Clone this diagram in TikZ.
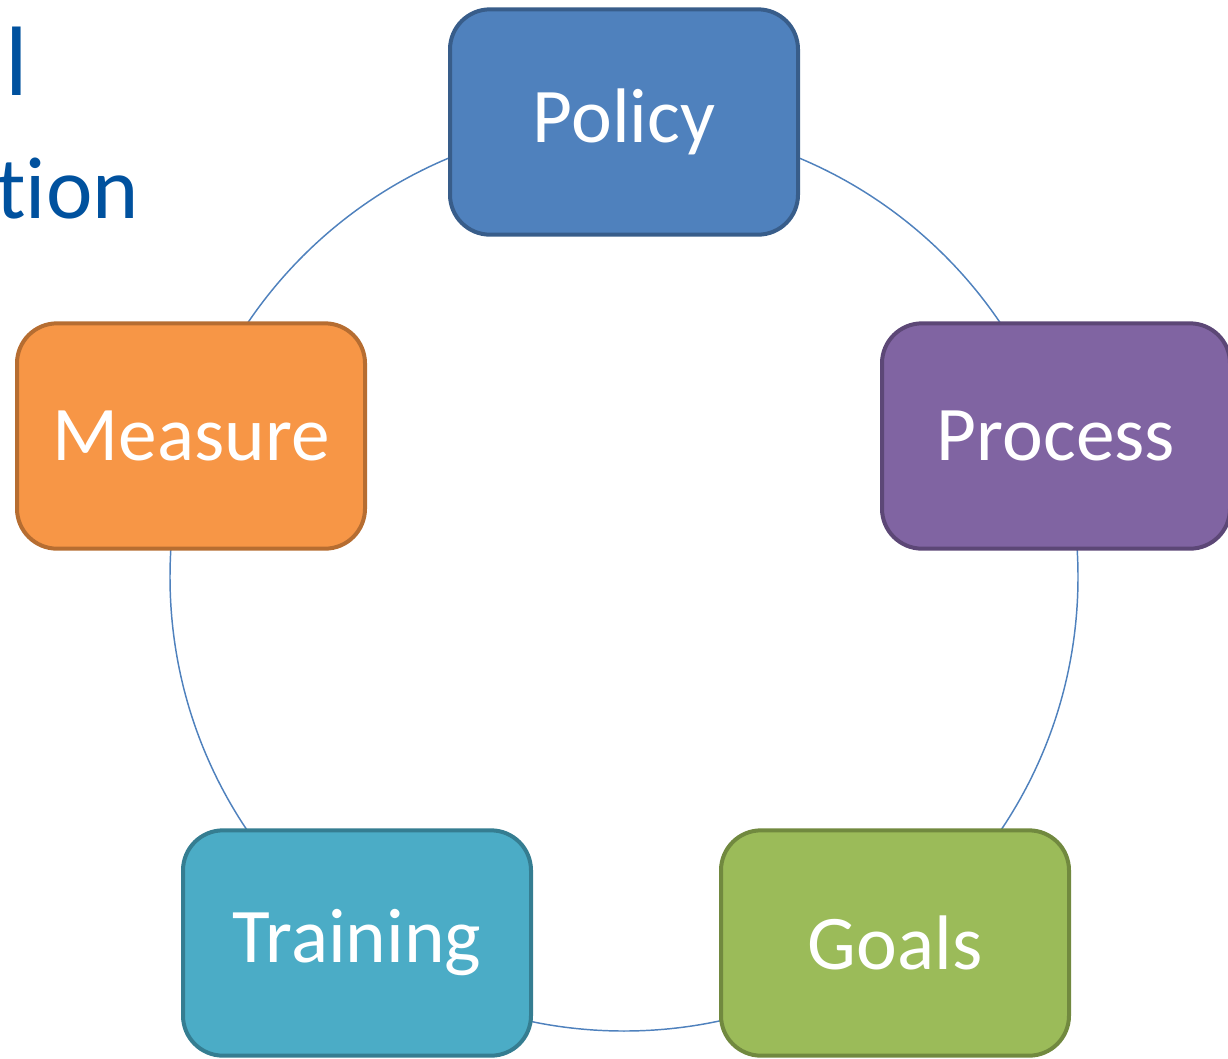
\documentclass[tikz,border=0pt]{standalone}
\usepackage{fontspec}
\setmainfont[Ligatures=NoCommon]{Carlito}
\definecolor{ring}{HTML}{4F81BD}
\definecolor{polfill}{HTML}{4F81BD}\definecolor{poldraw}{HTML}{385D8A}
\definecolor{profill}{HTML}{8064A2}\definecolor{prodraw}{HTML}{5C4776}
\definecolor{meafill}{HTML}{F79646}\definecolor{meadraw}{HTML}{B66D31}
\definecolor{trafill}{HTML}{4BACC6}\definecolor{tradraw}{HTML}{357D91}
\definecolor{goafill}{HTML}{9BBB59}\definecolor{goadraw}{HTML}{71893F}
\definecolor{titleblue}{HTML}{00519E}
\begin{document}
\begin{tikzpicture}[x=0.75pt,y=-0.75pt,
  box/.style={rounded corners=30pt,line width=3pt,minimum width=261pt,minimum height=169pt,
    text=white,font=\fontsize{58}{60}\selectfont,inner sep=0pt},
  titletext/.style={text=titleblue,inner sep=0pt}]
\useasboundingbox (0,0) rectangle (1228,1058);
\node[titletext,font=\fontsize{74}{74}\selectfont,anchor=base west] (t1) at (5,95) {l};
\node[titletext,font=\fontsize{66}{66}\selectfont,anchor=base east] (t2) at (139,218) {tion};
\draw[ring,line width=1.1pt] (624,577) circle[radius=454*0.75pt];
\node[box,fill=polfill,draw=poldraw] (policy) at (624,122) {Policy};
\node[box,fill=profill,draw=prodraw] (process) at (1056,436) {Process};
\node[box,fill=goafill,draw=goadraw] (goals) at (895,943) {Goals};
\node[box,fill=trafill,draw=tradraw] (training) at (357,943) {Training};
\node[box,fill=meafill,draw=meadraw] (measure) at (191,436) {Measure};
\end{tikzpicture}
\end{document}
